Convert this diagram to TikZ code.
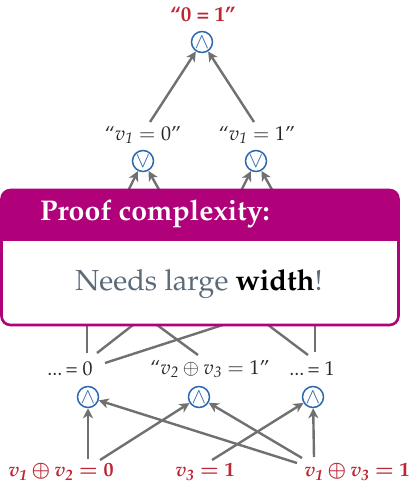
\documentclass[tikz,border=0pt]{standalone}
\usepackage[T1]{fontenc}
\usepackage{mathpazo}
\usetikzlibrary{arrows.meta,calc}
\definecolor{mag}{RGB}{176,0,122}
\definecolor{myred}{RGB}{190,38,52}
\definecolor{myblue}{RGB}{45,105,175}
\definecolor{mygray}{RGB}{112,112,112}
\definecolor{bodytxt}{RGB}{92,106,120}
\newcommand{\vi}[1]{v_{\mathit{#1}}}
\begin{document}
\begin{tikzpicture}[x=1pt,y=-1pt,
  lbl/.style={font=\fontsize{20}{24}\selectfont, text=black!85, inner sep=0pt},
  redlbl/.style={font=\fontsize{20}{24}\selectfont\bfseries\boldmath, text=myred, inner sep=0pt},
  gate/.style={circle, draw=myblue, line width=1.5pt, minimum size=21pt, inner sep=0pt, text=myblue, font=\fontsize{21}{21}\selectfont},
  arr/.style={draw=mygray, line width=2.4pt, -{Stealth[length=10pt,width=10pt,inset=3pt]}},
  ln/.style={draw=mygray, line width=2.4pt}]
\useasboundingbox (0,0) rectangle (410,485);

% top
\node[redlbl, font=\fontsize{21}{24}\selectfont\bfseries] (top) at (203,14) {``0 = 1''};
\node[gate] (g0) at (202,42) {$\wedge$};

% middle
\node[lbl] (l0) at (143,135) {``$\vi1 = 0$''};
\node[lbl] (l1) at (257,135) {``$\vi1 = 1$''};
\node[gate] (g1) at (143,161) {$\vee$};
\node[gate] (g2) at (256,161) {$\vee$};
\coordinate (s1) at (150,122);
\coordinate (s2) at (254,122);
\draw[arr] (s1) -- (g0);
\draw[arr] (s2) -- (g0);

% arrows into middle gates (start behind box)
\coordinate (h1) at (126,195);
\coordinate (h2) at (162,195);
\coordinate (h3) at (239,195);
\coordinate (h4) at (275,195);
\draw[arr] (h1) -- (g1);
\draw[arr] (h2) -- (g1);
\draw[arr] (h3) -- (g2);
\draw[arr] (h4) -- (g2);

% lower level labels
\node[lbl] (a0) at (70,369) {...\,= 0};
\node[lbl] (a1) at (210,369) {``$\vi2 \oplus \vi3 = 1$''};
\node[lbl] (a2) at (312,369) {...\,= 1};

% lines going up behind the box
\coordinate (u1) at (87,300);
\coordinate (u2) at (165,300);
\coordinate (u3) at (123,300);
\coordinate (u4) at (300,300);
\coordinate (u5) at (235,300);
\coordinate (u6) at (315,300);
\coordinate (p1) at (87,353);
\coordinate (p2) at (97,353);
\coordinate (p3) at (198,355);
\coordinate (p4) at (105,363);
\coordinate (p5) at (308,355);
\coordinate (p6) at (315,352);
\draw[ln] (p1) -- (u1);
\draw[ln] (p2) -- (u2);
\draw[ln] (p3) -- (u3);
\draw[ln] (p4) -- (u4);
\draw[ln] (p5) -- (u5);
\draw[ln] (p6) -- (u6);

% box
\begin{scope}
  \clip[rounded corners=9pt] (1.5,190) rectangle (398.5,325);
  \fill[white] (0,190) rectangle (400,326);
  \fill[mag] (0,188) rectangle (400,241);
\end{scope}
\draw[mag, line width=2.6pt, rounded corners=9pt] (1.5,190) rectangle (398.5,325);
\node[anchor=west, text=white, font=\fontsize{28.5}{32}\selectfont\bfseries, inner sep=0pt] (title) at (40,214) {Proof complexity:};
\node[text=bodytxt, font=\fontsize{29}{34}\selectfont, inner sep=0pt] (body) at (199,284) {Needs large \textcolor{black}{\textbf{width}}!};

% bottom gates
\node[gate] (b1) at (88,397) {$\wedge$};
\node[gate] (b2) at (199,397) {$\wedge$};
\node[gate] (b3) at (313,397) {$\wedge$};

% bottom labels
\node[redlbl] (c1) at (61,472) {$\vi1 \oplus \vi2 = 0$};
\node[redlbl] (c2) at (205,472) {$\vi3 = 1$};
\node[redlbl] (c3) at (357,472) {$\vi1 \oplus \vi3 = 1$};

\coordinate (q1) at (88,459);
\coordinate (q2) at (100,460);
\coordinate (q3) at (212,460);
\coordinate (q4) at (297,463);
\coordinate (q5) at (302,458);
\coordinate (q6) at (314,457);
\draw[arr] (q1) -- (b1);
\draw[arr] (q2) -- (b2);
\draw[arr] (q3) -- (b3);
\draw[arr] (q4) -- (b1);
\draw[arr] (q5) -- (b2);
\draw[arr] (q6) -- (b3);
\end{tikzpicture}
\end{document}
